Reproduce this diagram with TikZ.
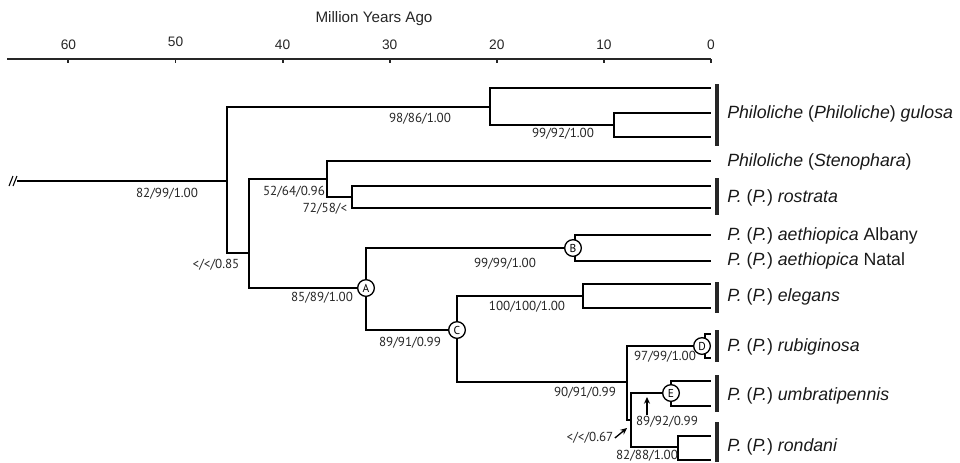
\documentclass[tikz,border=0pt]{standalone}
\usepackage{fontspec}
\setmainfont{Liberation Sans}
\newfontfamily\suppfont{PT Sans}
\usetikzlibrary{arrows.meta}

\begin{document}
\begin{tikzpicture}[x=0.75pt, y=-0.75pt,
		branch/.style={line width=1.2pt},
		axisline/.style={line width=1.4pt, black!85},
		cladebar/.style={line width=2.8pt, black!85},
		ticklabel/.style={font=\fontsize{10.3pt}{11pt}\selectfont, black!85},
		supp/.style={font=\suppfont\fontsize{9.8pt}{10pt}\selectfont, inner sep=1pt, black!85},
		taxon/.style={anchor=west, inner sep=0pt, font=\fontsize{13.3pt}{14pt}\selectfont, black!90},
		clade/.style={circle, draw, line width=1pt, fill=white, inner sep=0pt, minimum size=12.5pt, font=\suppfont\fontsize{8.6pt}{9pt}\selectfont},
		pointer/.style={line width=1pt, -{Stealth[length=5pt, width=4.5pt]}}]
	
	\useasboundingbox (0,0) rectangle (960,462);
	
	% --- TIME AXIS ---
	\node[font=\fontsize{11.4pt}{12pt}\selectfont, black!85] (axistitle) at (374,19) {Million Years Ago};
	\draw[axisline] (7,59) -- (711,59);
	\foreach \t/\ty in {0/45, 10/45, 20/45, 30/45, 40/45, 50/42, 60/45} {
		\draw[axisline] (711-10.71*\t,59) -- ++(0,4);
		\node[ticklabel] (tick\t) at (711-10.71*\t,\ty) {\t};
	}
	
	% --- TIPS ---
	\foreach \n/\y in {1/88, 2/113, 3/137, 4/161, 5/186, 6/208, 7/235, 8/261,
		9/284, 10/308, 11/334, 12/358, 13/381, 14/406, 15/436, 16/460} {
		\coordinate (t\n) at (711,\y);
	}
	
	% --- INTERNAL NODES ---
	\coordinate (out) at (17,181);
	\coordinate (root) at (227,181);
	\coordinate (gul) at (490,107);
	\coordinate (gul2) at (614,125);
	\coordinate (core) at (249,253);
	\coordinate (ste) at (327,179);
	\coordinate (ros) at (352,197);
	\coordinate (nA) at (366,288);
	\coordinate (nB) at (575,248);
	\coordinate (nC) at (457,330);
	\coordinate (ele) at (583,296);
	\coordinate (rub) at (627,382);
	\coordinate (nD) at (705,346);
	\coordinate (umb) at (631,420);
	\coordinate (nE) at (671,393);
	\coordinate (ron) at (678,447);
	
	% --- BRANCHES ---
	\draw[branch] (out) -- (root);
	\draw[line width=0.8pt] (9,186) -- (13,176) (13,186) -- (17,176);
	\draw[branch] (root) |- (gul);
	\draw[branch] (root) |- (core);
	\draw[branch] (gul) |- (t1);
	\draw[branch] (gul) |- (gul2);
	\draw[branch] (gul2) |- (t2);
	\draw[branch] (gul2) |- (t3);
	\draw[branch] (core) |- (ste);
	\draw[branch] (core) |- (nA);
	\draw[branch] (ste) |- (t4);
	\draw[branch] (ste) |- (ros);
	\draw[branch] (ros) |- (t5);
	\draw[branch] (ros) |- (t6);
	\draw[branch] (nA) |- (nB);
	\draw[branch] (nA) |- (nC);
	\draw[branch] (nB) |- (t7);
	\draw[branch] (nB) |- (t8);
	\draw[branch] (nC) |- (ele);
	\draw[branch] (nC) |- (rub);
	\draw[branch] (ele) |- (t9);
	\draw[branch] (ele) |- (t10);
	\draw[branch] (rub) |- (nD);
	\draw[branch] (rub) |- (umb);
	\draw[branch] (nD) |- (t11);
	\draw[branch] (nD) |- (t12);
	\draw[branch] (umb) |- (nE);
	\draw[branch] (umb) |- (ron);
	\draw[branch] (nE) |- (t13);
	\draw[branch] (nE) |- (t14);
	\draw[branch] (ron) |- (t15);
	\draw[branch] (ron) |- (t16);
	
	% --- CLADE MARKERS ---
	\node[clade] (cA) at (nA) {A};
	\node[clade] (cB) at (573,248) {B};
	\node[clade] (cC) at (nC) {C};
	\node[clade] (cD) at (702,346) {D};
	\node[clade] (cE) at (nE) {E};
	
	% --- SUPPORT VALUES ---
	\node[supp] (s1) at (420,119) {98/86/1.00};
	\node[supp] (s2) at (563,134) {99/92/1.00};
	\node[supp] (s3) at (167,194) {82/99/1.00};
	\node[supp] (s4) at (294,192) {52/64/0.96};
	\node[supp] (s5) at (325,209) {72/58/<};
	\node[supp] (s6) at (216,265) {</</0.85};
	\node[supp] (s7) at (505,264) {99/99/1.00};
	\node[supp] (s8) at (322,298) {85/89/1.00};
	\node[supp] (s9) at (527,307) {100/100/1.00};
	\node[supp] (s10) at (410,343) {89/91/0.99};
	\node[supp] (s11) at (665,357) {97/99/1.00};
	\node[supp] (s12) at (585,393) {90/91/0.99};
	\node[supp] (s13) at (667,422) {89/92/0.99};
	\node[supp] (s14) at (590,438) {</</0.67};
	\node[supp] (s15) at (647,456) {82/88/1.00};
	
	\coordinate (pE) at (647,397);
	\coordinate (pU) at (627,428);
	\draw[pointer] (s13.north -| pE) -- (pE);
	\draw[pointer] (s14.east) -- (pU);
	
	% --- CLADE BARS & TAXA ---
	\draw[cladebar] (717,84) -- (717,146);
	\draw[cladebar] (717,178) -- (717,215);
	\draw[cladebar] (717,282) -- (717,313);
	\draw[cladebar] (717,330) -- (717,362);
	\draw[cladebar] (717,375) -- (717,412);
	\draw[cladebar] (717,422) -- (717,462);
	
	\node[taxon] (lab1) at (727,114) {\textit{Philoliche} (\textit{Philoliche}) \textit{gulosa}};
	\node[taxon] (lab2) at (727,162) {\textit{Philoliche} (\textit{Stenophara})};
	\node[taxon] (lab3) at (727,198) {\textit{P.} (\textit{P.}) \textit{rostrata}};
	\node[taxon] (lab4) at (727,236) {\textit{P.} (\textit{P.}) \textit{aethiopica} Albany};
	\node[taxon] (lab5) at (727,261) {\textit{P.} (\textit{P.}) \textit{aethiopica} Natal};
	\node[taxon] (lab6) at (727,297) {\textit{P.} (\textit{P.}) \textit{elegans}};
	\node[taxon] (lab7) at (727,347) {\textit{P.} (\textit{P.}) \textit{rubiginosa}};
	\node[taxon] (lab8) at (727,396) {\textit{P.} (\textit{P.}) \textit{umbratipennis}};
	\node[taxon] (lab9) at (727,447) {\textit{P.} (\textit{P.}) \textit{rondani}};
	
\end{tikzpicture}
\end{document}
